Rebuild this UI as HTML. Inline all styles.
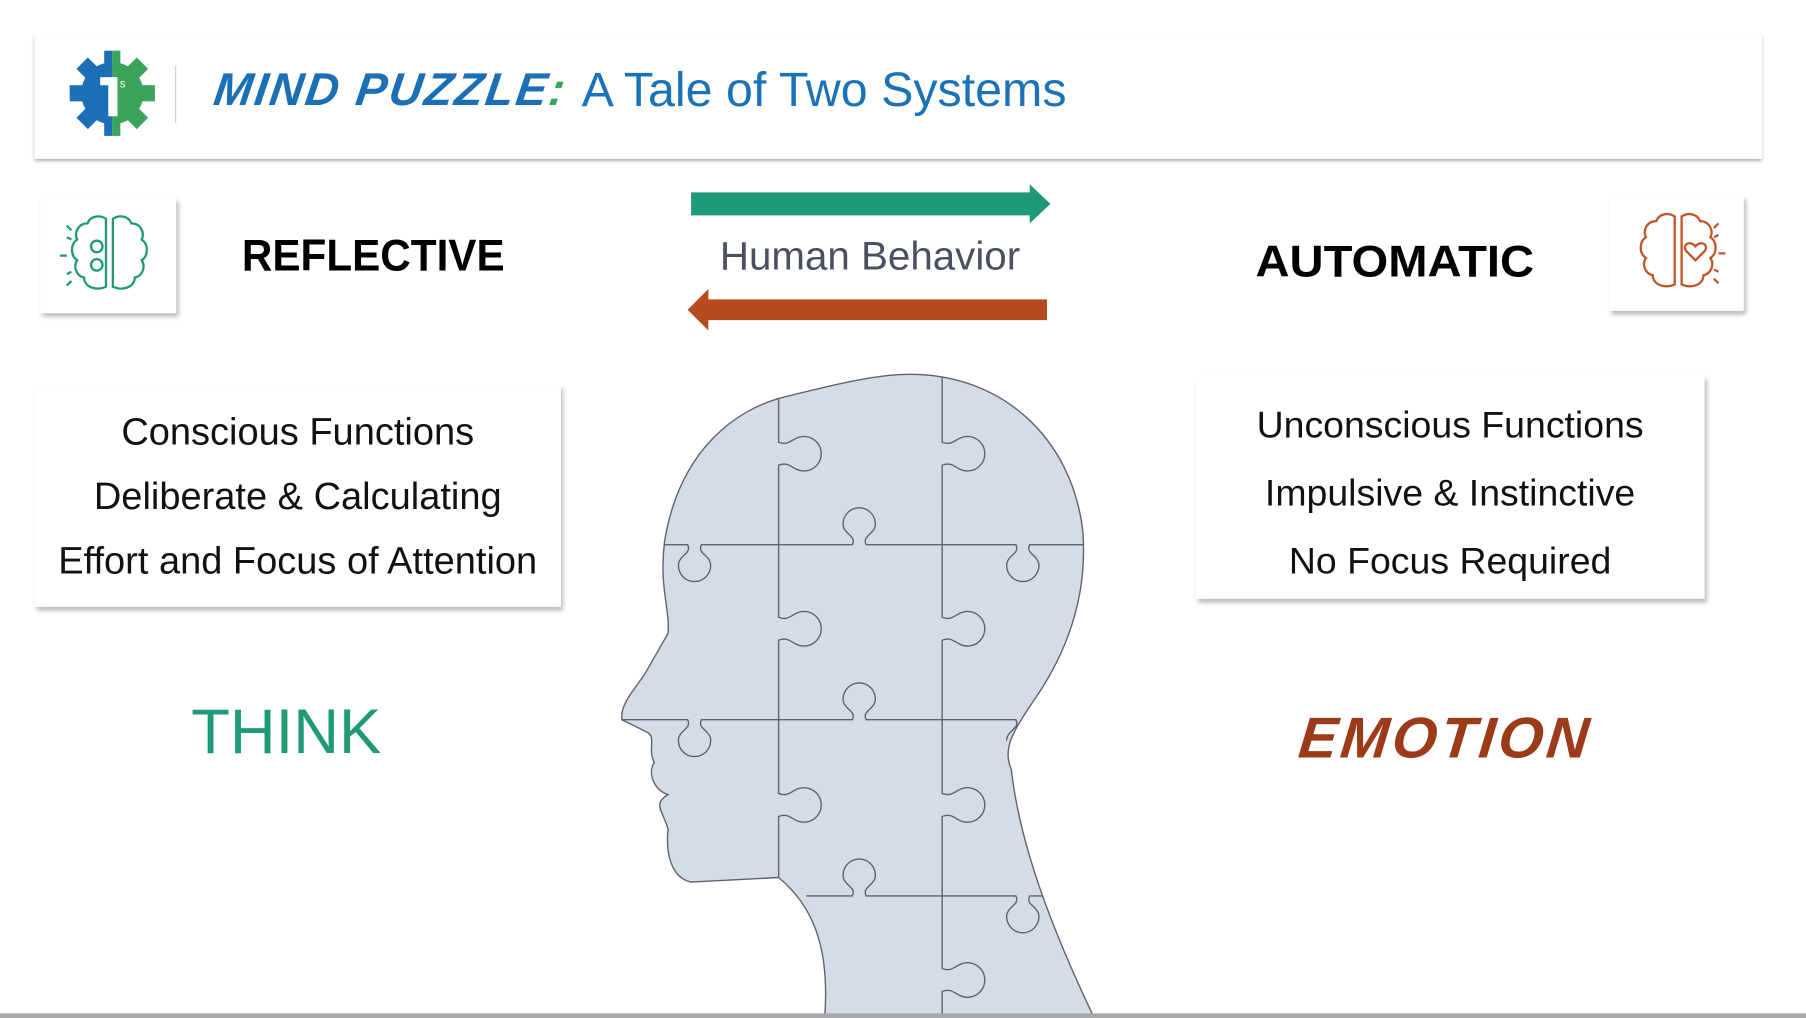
<!DOCTYPE html>
<html><head><meta charset="utf-8"><style>
html,body{margin:0;padding:0;background:#fff;overflow:hidden}
#w{position:absolute;left:0;top:0;width:1568px;height:884px;transform:scale(1.15179,1.15158);transform-origin:0 0;font-family:"Liberation Sans",sans-serif}
.card{position:absolute;background:#fff;box-shadow:2px 3px 4px rgba(0,0,0,.28)}
.t{position:absolute;white-space:nowrap}
</style></head><body><div id="w">
<div class="card" style="left:30px;top:30px;width:1500px;height:108px;box-shadow:0 2px 3px rgba(0,0,0,.35)"></div>
<svg style="position:absolute;left:60px;top:43px" width="75" height="76" viewBox="0 0 75 76">
<defs>
<clipPath id="lh"><rect x="0" y="0" width="37.5" height="76"/></clipPath>
<clipPath id="rh"><rect x="37.5" y="0" width="40" height="76"/></clipPath>
<g id="gear"><circle cx="37.5" cy="38" r="27"/>
<g transform="translate(37.5 38)"><rect x="-7" y="-37" width="14" height="74"/><rect x="-7" y="-37" width="14" height="74" transform="rotate(45)"/><rect x="-7" y="-37" width="14" height="74" transform="rotate(90)"/><rect x="-7" y="-37" width="14" height="74" transform="rotate(135)"/></g></g>
</defs>
<g clip-path="url(#lh)" fill="#1a6fb5"><use href="#gear"/></g>
<g clip-path="url(#rh)" fill="#3aa55a"><use href="#gear"/></g>
<path fill="#fff" d="M27 24h15v34h-8V31h-7z"/><text x="44" y="33" font-size="10" fill="#fff" font-family="Liberation Sans">s</text>
</svg>
<div style="position:absolute;left:152px;top:57px;width:1px;height:50px;background:#ccc"></div>
<div class="t" style="left:186px;top:56px;font-size:40px;font-style:italic;font-weight:bold;color:#1a6fb5;letter-spacing:2px;transform:skewX(-8deg)">MIND PUZZLE<span style="color:#3aa55a">:</span></div>
<div class="t" style="left:505px;top:54px;font-size:42px;color:#1a73b8">A Tale of Two Systems</div>

<div class="card" style="left:35px;top:172px;width:118px;height:100px"></div>
<svg style="position:absolute;left:48px;top:184px" width="92" height="76" viewBox="0 0 92 76" fill="none" stroke="#1f9a78" stroke-width="2">
<path d="M44 6c-6-4-14-2-16 4-8 0-12 8-9 14-6 4-6 14 0 18-4 6 0 14 6 15 0 8 10 12 19 8z"/>
<path d="M50 6c6-4 14-2 16 4 8 0 12 8 9 14 6 4 6 14 0 18 4 6 0 14-6 15 0 8-10 12-19 8z"/>
<circle cx="36" cy="30" r="5"/><circle cx="36" cy="46" r="5"/>
<path d="M10 12l4 4M4 38h6M10 64l4-4M14 24l-4-2M14 52l-4 2"/></svg>
<div class="t" style="left:210px;top:201px;font-size:39px;font-weight:bold;color:#000;transform:scaleX(0.94);transform-origin:0 0">REFLECTIVE</div>

<svg style="position:absolute;left:590px;top:155px" width="330" height="135">
<path fill="#1f9a78" d="M10 12h294V5l18 17-18 17v-7H10z"/>
<path fill="#b84a1f" d="M319 105H25v-9L7 114l18 18v-9h294z"/></svg>
<div class="t" style="left:625px;top:203px;font-size:35px;color:#4a5060">Human Behavior</div>

<div class="t" style="left:1090px;top:206px;font-size:39px;font-weight:bold;color:#000;transform:scaleX(1.05);transform-origin:0 0">AUTOMATIC</div>
<div class="card" style="left:1397px;top:170px;width:117px;height:100px"></div>
<svg style="position:absolute;left:1410px;top:182px" width="92" height="76" viewBox="0 0 92 76" fill="none" stroke="#c2562a" stroke-width="2">
<path d="M44 6c-6-4-14-2-16 4-8 0-12 8-9 14-6 4-6 14 0 18-4 6 0 14 6 15 0 8 10 12 19 8z"/>
<path d="M50 6c6-4 14-2 16 4 8 0 12 8 9 14 6 4 6 14 0 18 4 6 0 14-6 15 0 8-10 12-19 8z"/>
<path d="M62 44l-8-8c-4-5 3-10 8-4 5-6 12-1 8 4z"/>
<path d="M82 12l-4 4M88 38h-6M82 64l-4-4M78 24l4-2M78 52l4 2"/></svg>

<div class="card" style="left:30px;top:335px;width:457px;height:192px"></div>
<div class="t" style="left:30px;width:457px;top:347px;text-align:center;font-size:33px;line-height:56px;color:#111">Conscious Functions<br>Deliberate &amp; Calculating<br>Effort and Focus of Attention</div>
<div class="card" style="left:1038px;top:326px;width:442px;height:194px"></div>
<div class="t" style="left:1038px;width:442px;top:340px;text-align:center;font-size:32.5px;line-height:59px;color:#111">Unconscious Functions<br>Impulsive &amp; Instinctive<br>No Focus Required</div>

<div class="t" style="left:166px;top:603px;font-size:55px;color:#1f9a78">THINK</div>
<div class="t" style="left:1128px;top:612px;font-size:50px;font-weight:bold;font-style:italic;color:#9c3b1a;letter-spacing:3px;transform:skewX(-6deg)">EMOTION</div>

<svg style="position:absolute;left:0;top:0" width="1568" height="884">
<defs><clipPath id="hc"><path id="hp" d="M790 325C870 325 930 380 940 460C945 520 925 570 895 612C880 635 870 650 878 668C885 730 910 800 950 884L716 884C720 830 710 790 676 762L600 766C582 762 578 740 580 720C576 705 566 698 580 690C568 686 562 672 568 662C562 650 570 640 562 636L540 625C538 612 550 600 560 585L580 550C582 530 572 510 577 470C590 390 640 355 680 345C720 335 760 325 790 325Z"/></clipPath></defs>
<use href="#hp" fill="#d5dce6"/>
<g clip-path="url(#hc)" fill="none" stroke="#5c6272" stroke-width="1.2">
<path d="M676 320V384c10 4 12-5 22-5a15 15 0 1 1 0 30c-10 0-12-9-22-5V536c10 4 12-5 22-5a15 15 0 1 1 0 30c-10 0-12-9-22-5V689c10 4 12-5 22-5a15 15 0 1 1 0 30c-10 0-12-9-22-5V770"/>
<path d="M818 320V384c10 4 12-5 22-5a15 15 0 1 1 0 30c-10 0-12-9-22-5V536c10 4 12-5 22-5a15 15 0 1 1 0 30c-10 0-12-9-22-5V689c10 4 12-5 22-5a15 15 0 1 1 0 30c-10 0-12-9-22-5V841c10 4 12-5 22-5a15 15 0 1 1 0 30c-10 0-12-9-22-5V890"/>
<path d="M560 473H597c4 8-8 9-8 18a14 14 0 1 0 28 0c0-9-12-10-8-18H740c4-8-8-9-8-18a14 14 0 1 1 28 0c0 9-12 10-8 18H882c4 8-8 9-8 18a14 14 0 1 0 28 0c0-9-12-10-8-18H960"/>
<path d="M530 625H597c4 8-8 9-8 18a14 14 0 1 0 28 0c0-9-12-10-8-18H740c4-8-8-9-8-18a14 14 0 1 1 28 0c0 9-12 10-8 18H882c4 8-8 9-8 18"/>
<path d="M700 778H740c4-8-8-9-8-18a14 14 0 1 1 28 0c0 9-12 10-8 18H882c4 8-8 9-8 18a14 14 0 1 0 28 0c0-9-12-10-8-18H960"/>
</g>
<use href="#hp" fill="none" stroke="#5c6272" stroke-width="1.2"/>
<rect x="0" y="880" width="1568" height="4" fill="#a8a8a8"/>
</svg>
</div></body></html>
